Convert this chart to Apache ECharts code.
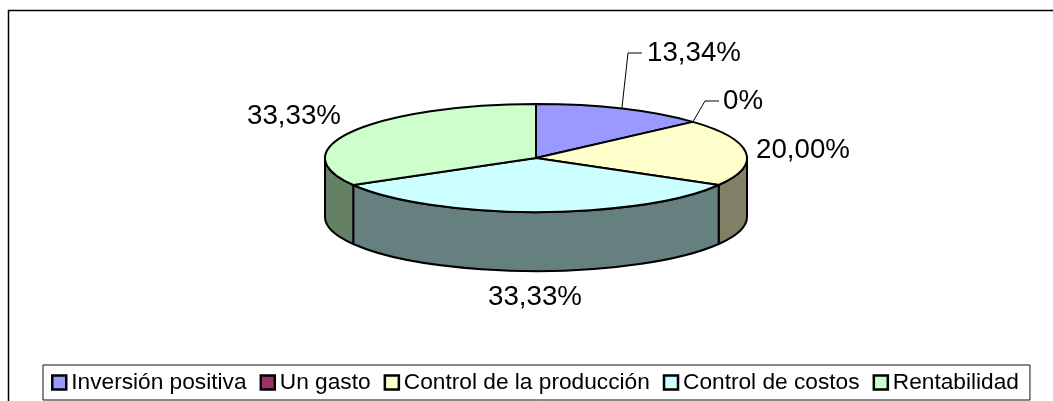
<!DOCTYPE html>
<html>
<head>
<meta charset="utf-8">
<style>html,body{margin:0;padding:0;background:#fff}#c{width:1053px;height:401px}</style>
<script src="https://cdn.jsdelivr.net/npm/echarts@6/dist/echarts.min.js"></script>
</head>
<body>
<div id="c"></div>
<script>
const categories = ['Inversión positiva', 'Un gasto', 'Control de la producción', 'Control de costos', 'Rentabilidad'];
const shares = [13.34, 0, 20.00, 33.33, 33.33];
const shareLabels = ['13,34%', '0%', '20,00%', '33,33%', '33,33%'];
const topColors = ['#9999FF', '#993366', '#FFFFCC', '#CCFFFF', '#CCFFCC'];
const sideColors = ['#4D4D80', '#4D1A33', '#808066', '#668080', '#668066'];

// Layout of the tilted pie and where each label sits.
const CX = 536, CY = 158, RX = 211, RY = 54, DEPTH = 59;
const FONT = '"Liberation Sans", Arial, sans-serif';
const labelSpots = [
  { x: 647, y: 53, leader: [[628, 53], [642, 53]] },
  { x: 723, y: 101, leader: [[705, 101], [719, 101]] },
  { x: 756, y: 150.6 },
  { x: 488, y: 297.5 },
  { x: 247, y: 116 }
];

const total = shares.reduce((a, b) => a + b, 0);
const px = a => CX + RX * Math.sin(a * Math.PI / 180);
const py = a => CY - RY * Math.cos(a * Math.PI / 180);
const startOf = i => shares.slice(0, i).reduce((a, b) => a + b, 0) / total * 360;
const BLACK = '#000';

function renderSlice(i, params, api) {
  const span = api.value(0) / total * 360;
  const a1 = startOf(i), a2 = a1 + span;
  const children = [];
  const w1 = Math.max(a1, 90), w2 = Math.min(a2, 270);
  if (span > 0 && w2 > w1) {
    const large = w2 - w1 > 180 ? 1 : 0;
    children.push({
      type: 'path', z2: 1,
      shape: { pathData: `M${px(w1)} ${py(w1)}A${RX} ${RY} 0 ${large} 1 ${px(w2)} ${py(w2)}L${px(w2)} ${py(w2) + DEPTH}A${RX} ${RY} 0 ${large} 0 ${px(w1)} ${py(w1) + DEPTH}Z` },
      style: { fill: sideColors[i], stroke: BLACK, lineWidth: 2, lineJoin: 'round' }
    });
  }
  if (span > 0) {
    const large = span > 180 ? 1 : 0;
    children.push({
      type: 'path', z2: 2,
      shape: { pathData: `M${CX} ${CY}L${px(a1)} ${py(a1)}A${RX} ${RY} 0 ${large} 1 ${px(a2)} ${py(a2)}Z` },
      style: { fill: topColors[i], stroke: BLACK, lineWidth: 2, lineJoin: 'round' }
    });
  }
  const spot = labelSpots[i];
  if (spot.leader) {
    const mid = (a1 + a2) / 2;
    children.push({
      type: 'polyline', z2: 3,
      shape: { points: [[px(mid), py(mid)]].concat(spot.leader) },
      style: { fill: null, stroke: BLACK, lineWidth: 1 }
    });
  }
  children.push({
    type: 'text', z2: 4, x: spot.x, y: spot.y,
    style: { text: shareLabels[i], fill: BLACK, font: `27.7px ${FONT}`, textAlign: 'left', textVerticalAlign: 'middle' }
  });
  return { type: 'group', children };
}

const option = {
  backgroundColor: '#fff',
  animation: false,
  graphic: [{
    type: 'polyline', silent: true, z: 0,
    shape: { points: [[8.5, 401], [8.5, 10.5], [1053, 10.5]] },
    style: { fill: null, stroke: BLACK, lineWidth: 1.5 }
  }],
  legend: {
    left: 43, top: 365,
    orient: 'horizontal',
    selectedMode: false,
    padding: [6, 11, 6, 8],
    itemGap: 13,
    itemWidth: 14, itemHeight: 14,
    borderColor: '#111', borderWidth: 1,
    backgroundColor: '#fff',
    icon: 'rect',
    textStyle: { color: BLACK, fontSize: 22.7, fontFamily: FONT },
    data: categories.map((name, i) => ({
      name, icon: 'rect',
      itemStyle: { color: topColors[i], borderColor: BLACK, borderWidth: 2.5 }
    }))
  },
  series: categories.map((name, i) => ({
    name,
    type: 'custom',
    coordinateSystem: 'none',
    silent: true,
    clip: false,
    itemStyle: { color: topColors[i] },
    data: [[shares[i]]],
    renderItem: (params, api) => renderSlice(i, params, api)
  }))
};
const chart = echarts.init(document.getElementById('c'), null, { renderer: 'canvas' });
chart.setOption(option);
</script>
</body>
</html>
